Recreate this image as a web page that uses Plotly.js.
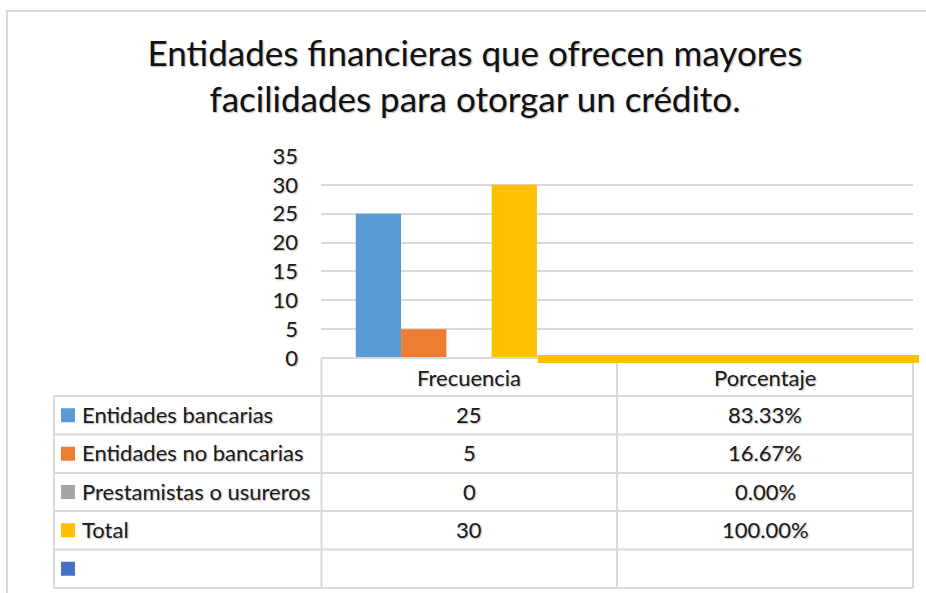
<!DOCTYPE html>
<html>
<head>
<meta charset="utf-8">
<script src="https://cdn.plot.ly/plotly-3.0.1.min.js"></script>
<style>
  html, body { margin: 0; padding: 0; background: #ffffff; }
  #chart { width: 926px; height: 593px; }
  #chart text { text-shadow: 1px 1px 1.5px rgba(0,0,0,0.28); }
</style>
</head>
<body>
<div id="chart"></div>
<script>
// ---- data ----
const categories = ['Frecuencia', 'Porcentaje'];
const seriesNames = ['Entidades bancarias', 'Entidades no bancarias', 'Prestamistas o usureros', 'Total', ''];
const seriesColors = ['#5B9BD5', '#ED7D31', '#A5A5A5', '#FFC000', '#4472C4'];
const frecuencia = [25, 5, 0, 30, null];
// percentage column is shown in the data table; its bars read as zero height in the picture
const porcentajeBars = [0, 0, 0, 0, null];
const frecuenciaLabels = ['25', '5', '0', '30', ''];
const porcentajeLabels = ['83.33%', '16.67%', '0.00%', '100.00%', ''];
const yTicks = [0, 5, 10, 15, 20, 25, 30, 35];
const titleText = 'Entidades financieras que ofrecen mayores<br>facilidades para otorgar un crédito.';

// ---- layout geometry (pixels) ----
const W = 926, H = 593;
const L = 321, R = 913, T = 156, B = 358;
const px = x => (x - L) / (R - L);
const py = y => (B - y) / (B - T);

const FONT = 'Lato, "Noto Sans", sans-serif';
const TXT = '#1a1a1a';
const GRID = '#d9d9d9';
const FS = 22;

const traces = seriesNames.map((name, i) => ({
  type: 'bar',
  name: name,
  x: categories,
  y: [frecuencia[i], porcentajeBars[i]],
  marker: { color: seriesColors[i], line: { width: 0 } },
  hoverinfo: 'skip',
  showlegend: false
}));

// data table geometry
const tableLeft = 54, col1 = 321.5, col2 = 617, tableRight = 913;
const headerTop = B, headerBottom = 396;
const rowLines = [396, 434.5, 473, 511, 549.5, 588];

const shapes = [];
const annotations = [];
const line = (x0, y0, x1, y1) => shapes.push({
  type: 'line', xref: 'paper', yref: 'paper',
  x0: px(x0), y0: py(y0), x1: px(x1), y1: py(y1),
  line: { color: GRID, width: 2 }, layer: 'above'
});

// outer chart frame
shapes.push({ type: 'rect', xref: 'paper', yref: 'paper',
  x0: px(7), y0: py(11), x1: px(945), y1: py(610),
  line: { color: '#d9d9d9', width: 2 }, layer: 'below' });

// header row
line(col1, headerTop, tableRight, headerTop);
line(col1, headerTop, col1, rowLines[rowLines.length - 1]);
line(col2, headerTop, col2, rowLines[rowLines.length - 1]);
line(tableRight, headerTop, tableRight, rowLines[rowLines.length - 1]);
line(tableLeft, rowLines[0], tableLeft, rowLines[rowLines.length - 1]);
rowLines.forEach(y => line(tableLeft, y, tableRight, y));

const c1 = (col1 + col2) / 2, c2 = (col2 + tableRight) / 2;
categories.forEach((c, j) => annotations.push({
  xref: 'paper', yref: 'paper', x: px(j === 0 ? c1 : c2), y: py((headerTop + headerBottom) / 2),
  text: c, showarrow: false, xanchor: 'center', yanchor: 'middle',
  font: { family: FONT, size: FS, color: TXT }
}));

seriesNames.forEach((name, i) => {
  const yc = (rowLines[i] + rowLines[i + 1]) / 2;
  // legend key
  shapes.push({ type: 'rect', xref: 'paper', yref: 'paper',
    x0: px(61), x1: px(75), y0: py(yc - 7), y1: py(yc + 7),
    fillcolor: seriesColors[i], line: { width: 0 }, layer: 'above' });
  const ty = py(yc - 1);
  if (name) annotations.push({
    xref: 'paper', yref: 'paper', x: px(80), y: ty,
    text: name, showarrow: false, xanchor: 'left', yanchor: 'middle',
    font: { family: FONT, size: FS, color: TXT }
  });
  if (frecuenciaLabels[i]) annotations.push({
    xref: 'paper', yref: 'paper', x: px(c1), y: ty,
    text: frecuenciaLabels[i], showarrow: false, xanchor: 'center', yanchor: 'middle',
    font: { family: FONT, size: FS, color: TXT }
  });
  if (porcentajeLabels[i]) annotations.push({
    xref: 'paper', yref: 'paper', x: px(c2), y: ty,
    text: porcentajeLabels[i], showarrow: false, xanchor: 'center', yanchor: 'middle',
    font: { family: FONT, size: FS, color: TXT }
  });
});

// stray yellow strip present in the original rendering
shapes.push({ type: 'rect', xref: 'paper', yref: 'paper',
  x0: px(537.5), x1: px(919), y0: py(355), y1: py(363),
  fillcolor: '#FFC000', line: { width: 0 }, layer: 'above' });

const layout = {
  width: W, height: H,
  margin: { l: L, r: W - R, t: T, b: H - B, pad: 0 },
  paper_bgcolor: '#ffffff', plot_bgcolor: '#ffffff',
  title: {
    text: titleText,
    font: { family: FONT, size: 35, color: '#111111' },
    x: 475 / W, xref: 'container', xanchor: 'center',
    y: 1 - 66 / H, yref: 'container', yanchor: 'top'
  },
  barmode: 'group', bargap: 0.235, bargroupgap: 0,
  xaxis: {
    type: 'category', range: [-0.5, 1.5], showticklabels: false,
    showgrid: false, zeroline: false, showline: false, fixedrange: true
  },
  yaxis: {
    range: [0, 35], tickvals: yTicks, ticktext: yTicks.map(String),
    showgrid: true, gridcolor: GRID, gridwidth: 2,
    zeroline: false, showline: false, ticks: '',
    ticklabelstandoff: 22,
    tickfont: { family: FONT, size: FS, color: TXT }, fixedrange: true
  },
  shapes: shapes,
  annotations: annotations,
  showlegend: false
};

Plotly.newPlot('chart', traces, layout, { displayModeBar: false, staticPlot: true });
</script>
</body>
</html>
